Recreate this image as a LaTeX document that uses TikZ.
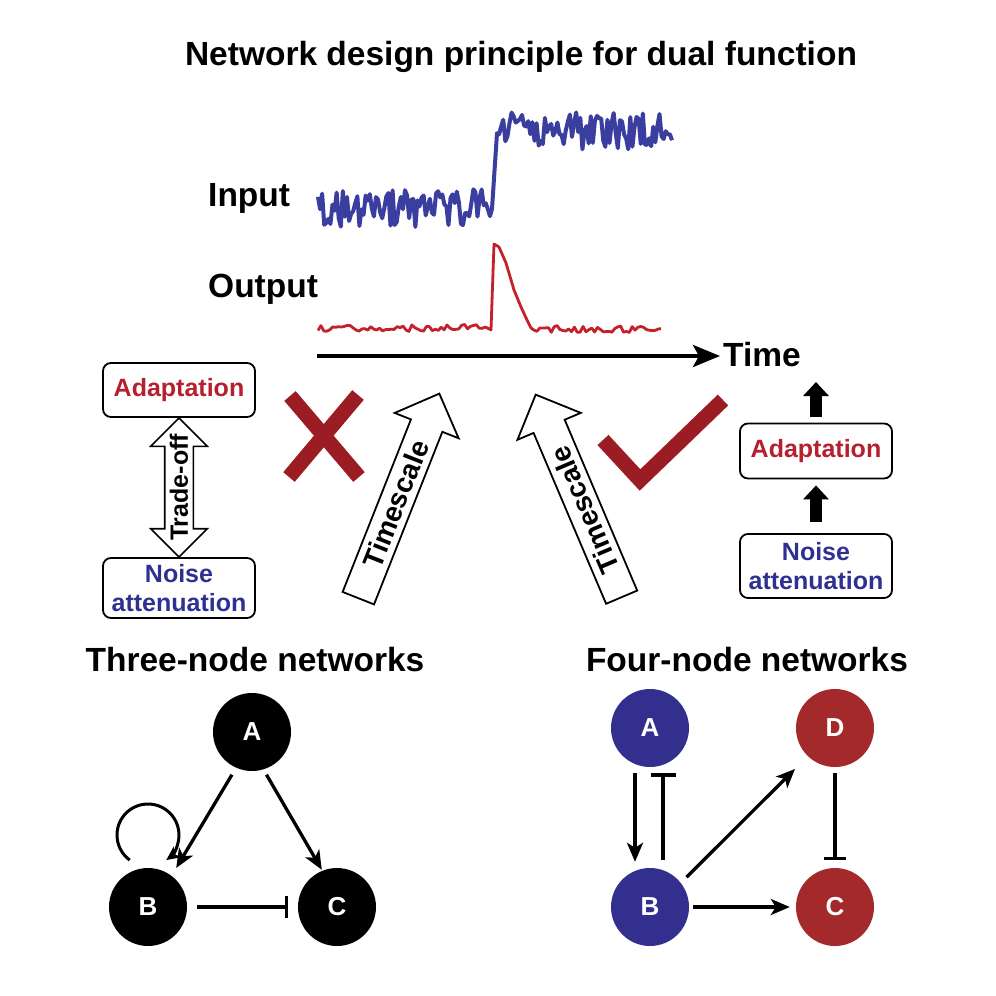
\documentclass[tikz,border=0pt]{standalone}
\usepackage{fontspec}
\setmainfont{Liberation Sans}
\usetikzlibrary{arrows.meta,shapes.arrows,calc}

\definecolor{sigblue}{HTML}{3A3E9E}
\definecolor{sigred}{HTML}{C4212B}
\definecolor{txtred}{HTML}{B51F2E}
\definecolor{txtblue}{HTML}{2E3192}
\definecolor{markred}{HTML}{9B1D23}
\definecolor{nodeblue}{HTML}{322F8E}
\definecolor{nodered}{HTML}{A3292A}

\tikzset{
  big/.style={font=\fontsize{33.5}{38}\selectfont\bfseries, inner sep=0pt},
  lab/.style={font=\fontsize{25}{28.5}\selectfont\bfseries},
  box/.style={draw, line width=1.8pt, rounded corners=8pt, minimum width=152pt, lab, align=center, inner sep=0pt},
  nd/.style={circle, minimum size=78pt, inner sep=0pt, text=white, font=\fontsize{26}{30}\selectfont\bfseries},
  act/.style={line width=3.3pt, -{Stealth[length=19pt,width=16pt,inset=5pt]}},
  inh/.style={line width=3.3pt, -{Bar[width=22pt]}},
  blk/.style={line width=12pt, -{Triangle[length=14pt,width=25pt]}},
  timeaxis/.style={line width=4pt, -{Stealth[length=27pt,width=22pt,inset=6pt]}},
  bad/.style={markred, line width=15pt},
  tsarrow/.style={single arrow, draw, line width=1.8pt, fill=white, minimum height=220pt,
    single arrow head extend=17.5pt, text height=32pt, text depth=0pt, inner sep=0pt},
  tslab/.style={font=\fontsize{28}{30}\selectfont\bfseries, inner sep=0pt},
  tradearrow/.style={double arrow, draw, line width=1.6pt, fill=white, minimum height=139pt,
    double arrow head extend=14pt, text height=27pt, text depth=0pt, inner sep=0pt},
  insig/.style={sigblue, line width=4pt, line join=round},
  outsig/.style={sigred, line width=2.8pt, line join=round}
}

\begin{document}
\begin{tikzpicture}[x=1pt,y=-1pt]
\useasboundingbox (0,0) rectangle (996,996);
\fill[white] (0,0) rectangle (996,996);

\node[big, anchor=base] (title) at (521,65) {Network design principle for dual function};
\node[big, anchor=base west] (inlab) at (208,206) {Input};
\node[big, anchor=base west] (outlab) at (208,297) {Output};

\pgfmathsetseed{42}
\draw[insig] plot[domain=318:492, samples=85] (\x,{208+19*rand})
  -- plot[domain=497:672, samples=85] (\x,{131+19*rand});
\draw[outsig] plot[domain=318:491, samples=60] (\x,{328+3.5*rand})
  -- (494,244) -- (499,247) -- (506,263) -- (514,290) -- (521,307) -- (527,320) -- (531,328)
  -- plot[domain=534:661, samples=45] (\x,{329+3.5*rand});

\node[big, anchor=base west] (time) at (723,366) {Time};
\coordinate (t0) at (317,356);
\coordinate (t1) at (720,356);
\draw[timeaxis] (t0) -- (t1);

\node[box, text=txtred, minimum height=54pt] (adL) at (179,390) {Adaptation};
\node[box, text=txtblue, minimum height=60pt] (noL) at (179,588) {Noise\\attenuation};
\node[tradearrow, rotate=90] (trade) at ($(adL.south)!0.5!(noL.north)$) {};
\node[lab, rotate=90, inner sep=0pt] at (trade) {Trade-off};

\draw[bad] (290,396) -- (359,477) (358,395) -- (289,477);

\node[tsarrow, rotate=68.4, anchor=tail] (ts1) at (358,599) {};
\node[tslab, rotate=68.4] at ($(ts1.tail)!0.46!(ts1.tip)$) {Timescale};
\node[tsarrow, rotate=113, anchor=tail] (ts2) at (622,598) {};
\node[tslab, rotate=113] at ($(ts2.tail)!0.43!(ts2.tip)$) {Timescale};

\draw[bad] (603,440) -- (640,480) -- (723,400);

\node[box, text=txtred, minimum height=55pt] (adR) at (816,451) {Adaptation};
\node[box, text=txtblue, minimum height=64pt] (noR) at (816,566) {Noise\\attenuation};
\coordinate (upR) at (816,382);
\draw[blk] ([yshift=11pt]noR.north) -- ([yshift=-6pt]adR.south);
\draw[blk] ([yshift=6pt]adR.north) -- (upR);

\node[big, anchor=base] (three) at (255,671) {Three-node networks};
\node[nd, fill=black] (A1) at (252,732) {A};
\node[nd, fill=black] (B1) at (148,907) {B};
\node[nd, fill=black] (C1) at (337,907) {C};
\draw[act, shorten <=8pt, shorten >=9pt] (A1.246) -- (B1.53);
\draw[act, shorten <=6pt, shorten >=1pt] (A1.287) -- (C1.112);
\draw[inh, shorten <=10pt, shorten >=10pt] (B1) -- (C1);
\coordinate (Bl) at ([yshift=72pt]B1.center);
\draw[line width=3pt, -{Stealth[length=14pt,width=13pt,inset=4pt]}] ([shift={(234:31pt)}]Bl) arc[start angle=234, end angle=-54, radius=31pt];

\node[big, anchor=base] (four) at (747,671) {Four-node networks};
\node[nd, fill=nodeblue] (A2) at (650,728) {A};
\node[nd, fill=nodeblue] (B2) at (650,907) {B};
\node[nd, fill=nodered] (C2) at (835,907) {C};
\node[nd, fill=nodered] (D2) at (835,728) {D};
\draw[act] ([xshift=-15pt,yshift=-6pt]A2.south) -- ([xshift=-15pt,yshift=6pt]B2.north);
\draw[inh, -{Bar[width=25pt]}] ([xshift=13pt,yshift=8pt]B2.north) -- ([xshift=13pt,yshift=-6pt]A2.south);
\draw[act, shorten <=8pt, shorten >=18pt] (B2.38) -- (D2.226);
\draw[act, shorten <=4pt, shorten >=6pt] (B2) -- (C2);
\draw[inh, shorten <=6pt, shorten >=8pt] (D2) -- (C2);
\end{tikzpicture}
\end{document}
